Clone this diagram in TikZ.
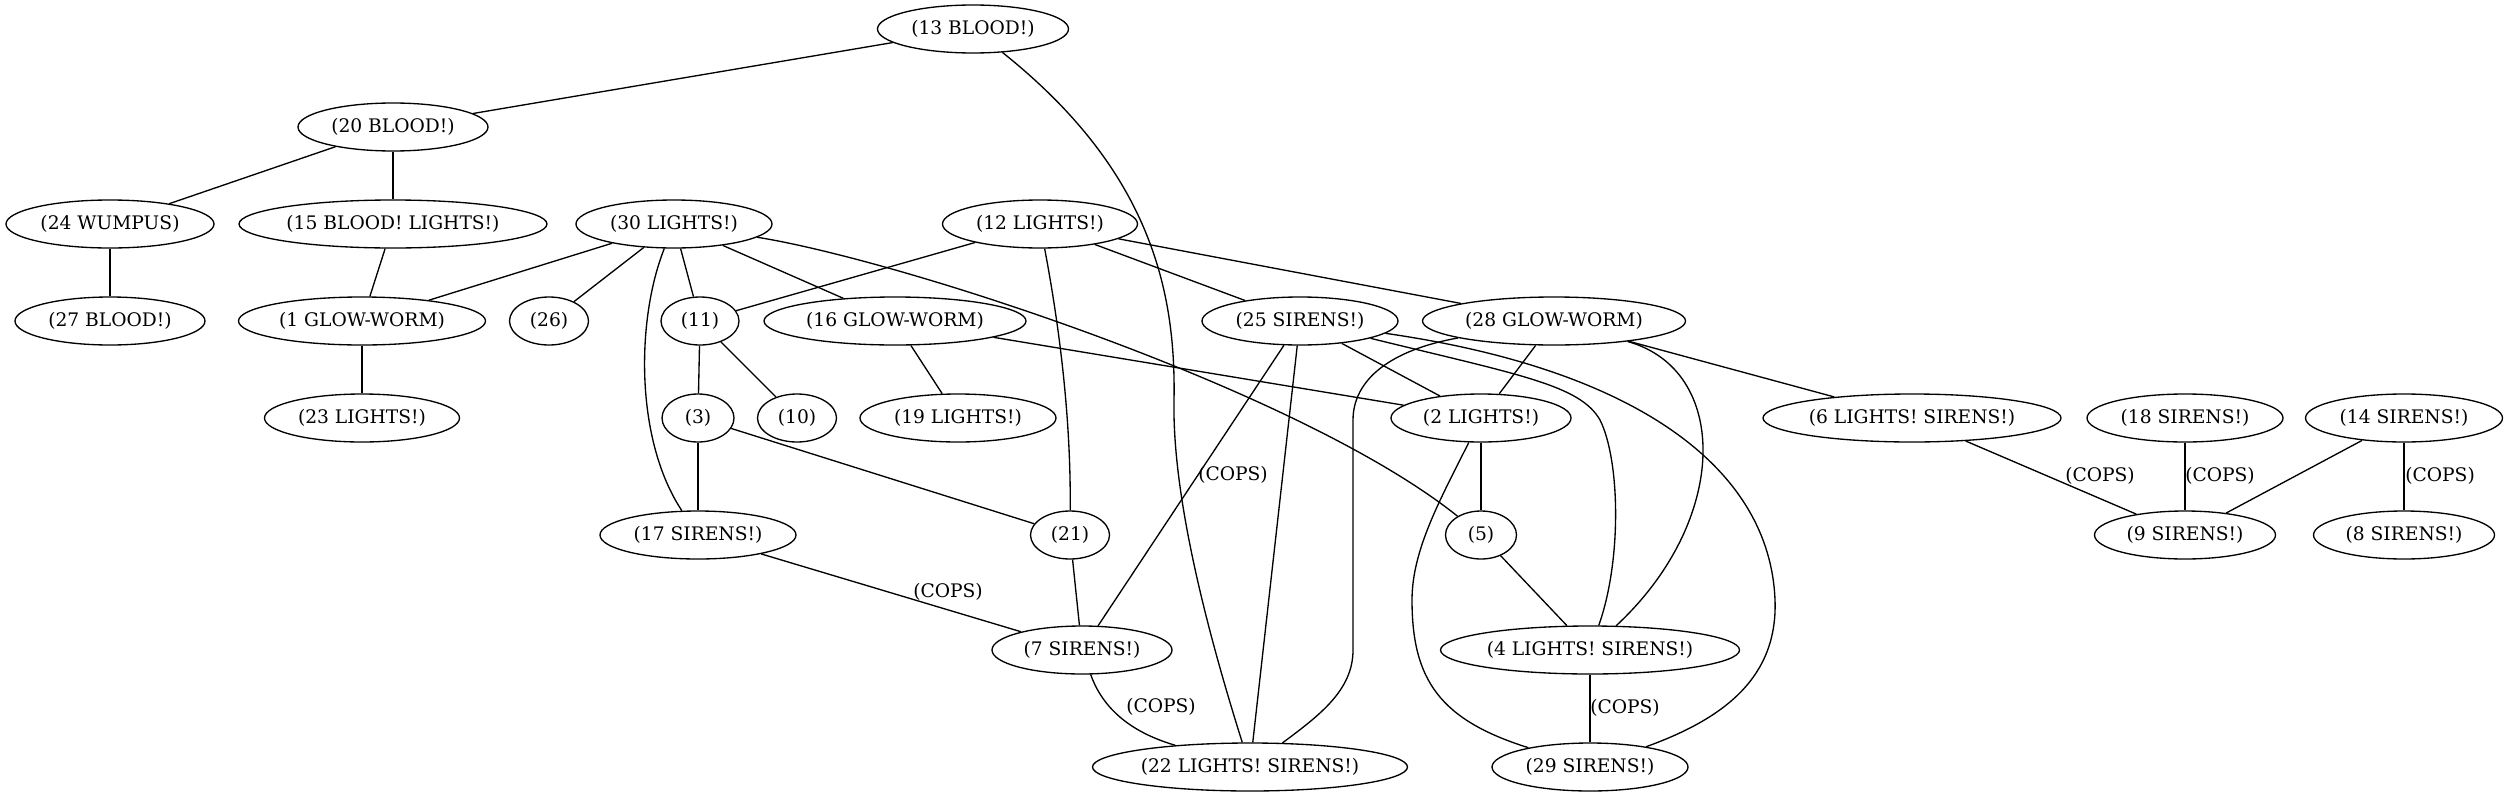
\documentclass[tikz,border=0pt]{standalone}
\usepackage{fontspec}
\setmainfont{DejaVu Serif}
\usetikzlibrary{shapes.geometric}
\begin{document}
\begin{tikzpicture}[x=0.75pt,y=-0.75pt,
  gn/.style={ellipse, draw, line width=1pt, inner sep=0pt, minimum height=36pt,
    font=\fontsize{14pt}{16pt}\selectfont},
  mw/.style={minimum width=#1*0.75pt},
  lbl/.style={inner sep=0pt, font=\fontsize{14pt}{16pt}\selectfont},
  edge/.style={line width=1pt}]
\useasboundingbox[fill=white] (0,0) rectangle (2508,796);
% nodes
\node[gn,mw=191] (n13) at (973,29) {(13 BLOOD!)};
\node[gn,mw=190] (n20) at (393,127) {(20 BLOOD!)};
\node[gn,mw=208] (n24) at (110,224) {(24 WUMPUS)};
\node[gn,mw=308] (n15) at (393,224) {(15 BLOOD! LIGHTS!)};
\node[gn,mw=196] (n30) at (674,224) {(30 LIGHTS!)};
\node[gn,mw=195] (n12) at (1040,224) {(12 LIGHTS!)};
\node[gn,mw=190] (n27) at (110,321) {(27 BLOOD!)};
\node[gn,mw=247] (n1) at (362,321) {(1 GLOW-WORM)};
\node[gn,mw=79] (n26) at (549,321) {(26)};
\node[gn,mw=78] (n11) at (700,321) {(11)};
\node[gn,mw=262] (n16) at (895,321) {(16 GLOW-WORM)};
\node[gn,mw=196] (n25) at (1300,321) {(25 SIRENS!)};
\node[gn,mw=263] (n28) at (1554,321) {(28 GLOW-WORM)};
\node[gn,mw=195] (n23) at (362,418) {(23 LIGHTS!)};
\node[gn,mw=72] (n3) at (698,418) {(3)};
\node[gn,mw=79] (n10) at (797,418) {(10)};
\node[gn,mw=196] (n19) at (958,418) {(19 LIGHTS!)};
\node[gn,mw=180] (n2) at (1481,418) {(2 LIGHTS!)};
\node[gn,mw=298] (n6) at (1912,418) {(6 LIGHTS! SIRENS!)};
\node[gn,mw=196] (n18) at (2185,418) {(18 SIRENS!)};
\node[gn,mw=197] (n14) at (2404,418) {(14 SIRENS!)};
\node[gn,mw=196] (n17) at (698,535) {(17 SIRENS!)};
\node[gn,mw=79] (n21) at (1070,535) {(21)};
\node[gn,mw=71] (n5) at (1481,535) {(5)};
\node[gn,mw=181] (n9) at (2185,535) {(9 SIRENS!)};
\node[gn,mw=181] (n8) at (2404,535) {(8 SIRENS!)};
\node[gn,mw=180] (n7) at (1082,650) {(7 SIRENS!)};
\node[gn,mw=299] (n4) at (1590,650) {(4 LIGHTS! SIRENS!)};
\node[gn,mw=315] (n22) at (1250,767) {(22 LIGHTS! SIRENS!)};
\node[gn,mw=196] (n29) at (1590,767) {(29 SIRENS!)};
% labels
\node[lbl] (l1) at (948,592) {(COPS)};
\node[lbl] (l2) at (1233,475) {(COPS)};
\node[lbl] (l3) at (1161,707) {(COPS)};
\node[lbl] (l4) at (1625,708) {(COPS)};
\node[lbl] (l5) at (2100,476) {(COPS)};
\node[lbl] (l6) at (2220,476) {(COPS)};
\node[lbl] (l7) at (2440,476) {(COPS)};
% edges
\begin{scope}[edge]
\draw (n13) -- (n20);
\draw (n13) .. controls (1150,170) and (1176,290) .. (1174,400) .. controls (1172,500) and (1210,640) .. (n22);
\draw (n20) -- (n24);
\draw (n20) -- (n15);
\draw (n24) -- (n27);
\draw (n15) -- (n1);
\draw (n1) -- (n23);
\draw (n30) -- (n1);
\draw (n30) -- (n26);
\draw (n30) -- (n11);
\draw (n30) -- (n16);
\draw (n30) .. controls (636,320) and (635,440) .. (n17);
\draw (n30) .. controls (900,260) and (1300,390) .. (n5);
\draw (n12) -- (n11);
\draw (n12) .. controls (1060,330) and (1071,420) .. (n21);
\draw (n12) -- (n25);
\draw (n12) -- (n28);
\draw (n16) -- (n19);
\draw (n16) -- (n2);
\draw (n11) -- (n3);
\draw (n11) -- (n10);
\draw (n3) -- (n17);
\draw (n3) -- (n21);
\draw (n17) -- (n7);
\draw (n21) -- (n7);
\draw (n25) -- (n7);
\draw (n25) -- (n22);
\draw (n25) -- (n2);
\draw (n25) .. controls (1520,375) and (1580,385) .. (1600,420) .. controls (1620,460) and (1622,560) .. (n4);
\draw (n25) .. controls (1640,370) and (1770,470) .. (1775,600) .. controls (1778,680) and (1720,720) .. (n29);
\draw (n28) -- (n2);
\draw (n28) .. controls (1390,350) and (1353,380) .. (1353,420) -- (1353,650) .. controls (1353,690) and (1320,715) .. (n22);
\draw (n28) .. controls (1730,370) and (1730,520) .. (n4);
\draw (n28) -- (n6);
\draw (n2) -- (n5);
\draw (n2) .. controls (1440,500) and (1412,550) .. (1412,600) .. controls (1412,680) and (1440,720) .. (n29);
\draw (n5) -- (n4);
\draw (n4) -- (n29);
\draw (n7) .. controls (1105,715) and (1140,735) .. (n22);
\draw (n6) -- (n9);
\draw (n18) -- (n9);
\draw (n14) -- (n9);
\draw (n14) -- (n8);
\end{scope}
\end{tikzpicture}
\end{document}
